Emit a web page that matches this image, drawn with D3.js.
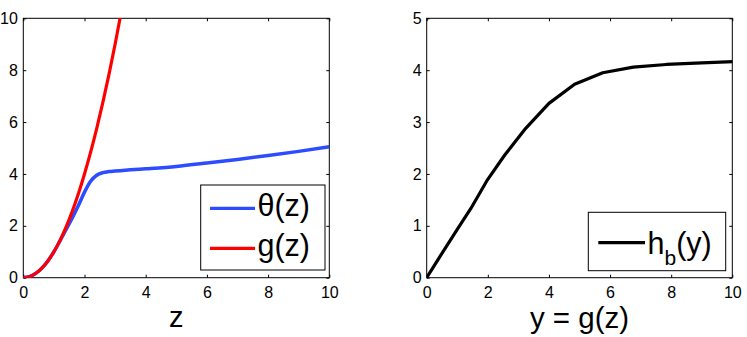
<!DOCTYPE html>
<html>
<head>
<meta charset="utf-8">
<script src="https://cdn.jsdelivr.net/npm/d3@7"></script>
<style>
  html, body { margin: 0; padding: 0; background: #fff; }
  svg { display: block; font-family: "Liberation Sans", Arial, Helvetica, sans-serif; }
</style>
</head>
<body>
<svg id="chart" width="747" height="337"></svg>
<script>
// ---- Data ----
const zTheta = [0, 0.2, 0.4, 0.6, 0.8, 1.0, 1.2, 1.4, 1.6, 1.8, 2.0, 2.2, 2.4, 2.6, 2.8, 3.0, 3.5, 4, 5, 6, 7, 8, 9, 10];
const thetaVals = [0, 0.04, 0.16, 0.36, 0.64, 1.0, 1.42, 1.86, 2.3, 2.78, 3.3, 3.72, 3.95, 4.05, 4.09, 4.11, 4.16, 4.2, 4.29, 4.42, 4.56, 4.71, 4.87, 5.05];
const zG = [0, 0.2, 0.4, 0.6, 0.8, 1.0, 1.2, 1.4, 1.6, 1.8, 2.0, 2.2, 2.4, 2.6, 2.8, 3.0, 3.2];
const gVals = [0, 0.04, 0.16, 0.36, 0.64, 1.0, 1.44, 1.96, 2.56, 3.24, 4.0, 4.84, 5.76, 6.76, 7.84, 9.0, 10.24];
const yHb = [0, 0.04, 0.16, 0.36, 0.64, 1.0, 1.44, 1.96, 2.56, 3.24, 4.0, 4.84, 5.76, 6.76, 7.84, 9.0, 10.24];
const hbVals = [0, 0.04, 0.15, 0.34, 0.6, 0.93, 1.33, 1.86, 2.37, 2.88, 3.36, 3.73, 3.95, 4.06, 4.11, 4.14, 4.17];
const xTicks = [0, 2, 4, 6, 8, 10];
const yTicksLeft = [0, 2, 4, 6, 8, 10];
const yTicksRight = [0, 1, 2, 3, 4, 5];

const svg = d3.select("#chart");
svg.append("rect").attr("width", 747).attr("height", 337).attr("fill", "#fff");

function panel(opts) {
  const { id, left, right, top, bottom, xMax, yMax, yTicks, yPad } = opts;
  const x = d3.scaleLinear().domain([0, xMax]).range([left, right]);
  const y = d3.scaleLinear().domain([0, yMax]).range([bottom, top]);
  const g = svg.append("g");
  g.append("clipPath").attr("id", id).append("rect")
    .attr("x", left).attr("y", top).attr("width", right - left).attr("height", bottom - top);

  const fmt = d3.format("d");
  const ax = (gen, tr) => {
    const a = g.append("g").attr("transform", tr).call(gen);
    a.select(".domain").remove();
    a.attr("font-family", null);
    a.selectAll("line").attr("stroke", "#000").attr("stroke-width", 1);
    a.selectAll("text").attr("font-size", 16).attr("fill", "#000");
    return a;
  };
  ax(d3.axisBottom(x).tickValues(xTicks).tickFormat(fmt).tickSizeInner(-3).tickSizeOuter(0).tickPadding(8.5), `translate(0,${bottom})`);
  ax(d3.axisLeft(y).tickValues(yTicks).tickFormat(fmt).tickSizeInner(-3).tickSizeOuter(0).tickPadding(yPad), `translate(${left},0)`);
  ax(d3.axisTop(x).tickValues(xTicks).tickFormat("").tickSizeInner(-3).tickSizeOuter(0), `translate(0,${top})`);
  ax(d3.axisRight(y).tickValues(yTicks).tickFormat("").tickSizeInner(-3).tickSizeOuter(0), `translate(${right},0)`);

  g.append("rect").attr("x", left).attr("y", top).attr("width", right - left).attr("height", bottom - top)
    .attr("fill", "none").attr("stroke", "#000").attr("stroke-width", 1);
  return { g, x, y };
}

// ---- Left panel ----
const L = panel({ id: "clipL", left: 23.3, right: 329.3, top: 18.3, bottom: 277.7, xMax: 10, yMax: 10, yTicks: yTicksLeft, yPad: 5.5 });
const lineL = d3.line().x(d => L.x(d[0])).y(d => L.y(d[1])).curve(d3.curveMonotoneX);
L.g.append("path").attr("clip-path", "url(#clipL)")
  .attr("d", lineL(zTheta.map((z, i) => [z, thetaVals[i]])))
  .attr("fill", "none").attr("stroke", "#2d4bff").attr("stroke-width", 3.5);
L.g.append("path").attr("clip-path", "url(#clipL)")
  .attr("d", lineL(zG.map((z, i) => [z, gVals[i]])))
  .attr("fill", "none").attr("stroke", "#ff0000").attr("stroke-width", 3.2);

// legend left
const legL = L.g.append("g");
legL.append("rect").attr("x", 200.7).attr("y", 185).attr("width", 124.3).attr("height", 85)
  .attr("fill", "#fff").attr("stroke", "#000").attr("stroke-width", 1);
legL.append("line").attr("x1", 210).attr("x2", 255).attr("y1", 208.3).attr("y2", 208.3).attr("stroke", "#2d4bff").attr("stroke-width", 3.2);
legL.append("line").attr("x1", 210).attr("x2", 255).attr("y1", 248.3).attr("y2", 248.3).attr("stroke", "#ff0000").attr("stroke-width", 3.2);
legL.append("text").attr("x", 257.5).attr("y", 216).attr("font-size", 30.5).text("θ(z)");
legL.append("text").attr("x", 257.5).attr("y", 256).attr("font-size", 30.5).text("g(z)");

svg.append("text").attr("x", (23.3 + 329.3) / 2).attr("y", 327).attr("text-anchor", "middle").attr("font-size", 29).text("z");

// ---- Right panel ----
const R = panel({ id: "clipR", left: 426.7, right: 732.3, top: 18.3, bottom: 277.7, xMax: 10, yMax: 5, yTicks: yTicksRight, yPad: 5 });
const lineR = d3.line().x(d => R.x(d[0])).y(d => R.y(d[1]));
R.g.append("path").attr("clip-path", "url(#clipR)")
  .attr("d", lineR(yHb.map((v, i) => [v, hbVals[i]])))
  .attr("fill", "none").attr("stroke", "#000").attr("stroke-width", 3.2).attr("stroke-linejoin", "round");

const legR = R.g.append("g");
legR.append("rect").attr("x", 588.3).attr("y", 212.3).attr("width", 137.4).attr("height", 58.4)
  .attr("fill", "#fff").attr("stroke", "#000").attr("stroke-width", 1);
legR.append("line").attr("x1", 598.3).attr("x2", 645).attr("y1", 242.7).attr("y2", 242.7).attr("stroke", "#000").attr("stroke-width", 3.2);
const tR = legR.append("text").attr("x", 647.5).attr("y", 253.5).attr("font-size", 30.5);
tR.append("tspan").text("h");
tR.append("tspan").attr("font-size", 21).attr("dy", 11.5).text("b");
tR.append("tspan").attr("dy", -11.5).text("(y)");

svg.append("text").attr("x", (426.7 + 732.3) / 2).attr("y", 328).attr("text-anchor", "middle").attr("font-size", 29.5).text("y = g(z)");
</script>
</body>
</html>
